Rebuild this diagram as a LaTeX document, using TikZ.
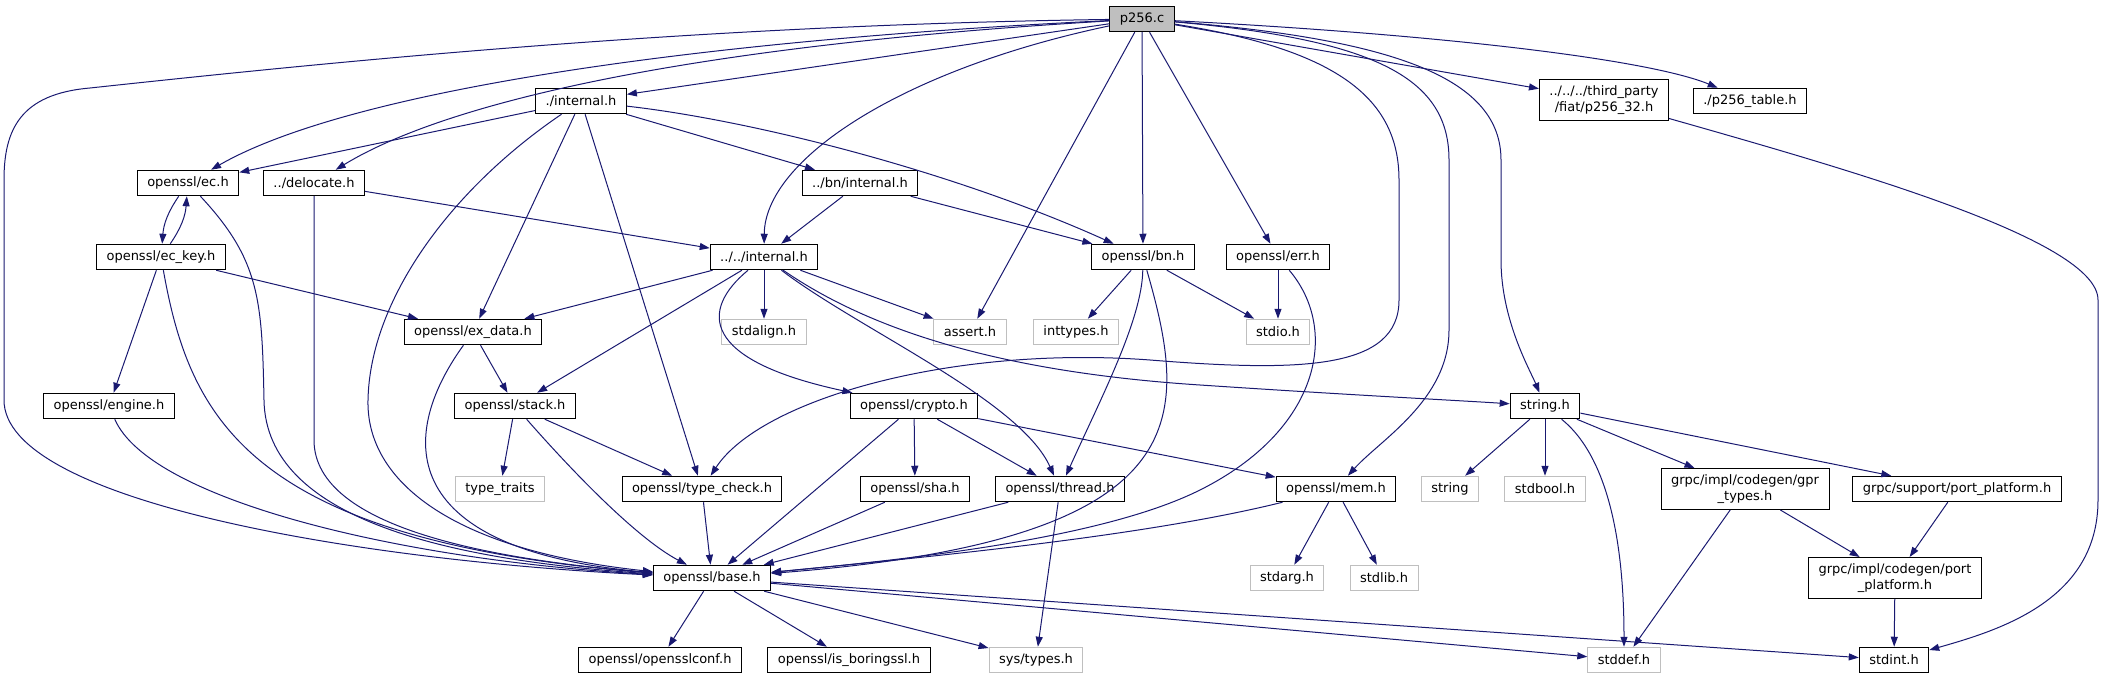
\documentclass[tikz,border=0pt]{standalone}
\usepackage{fontspec}
\setmainfont{DejaVu Sans}
\usetikzlibrary{arrows.meta}
\definecolor{incblue}{HTML}{191970}
\definecolor{grey75}{HTML}{BFBFBF}
\tikzset{
  hdr/.style={draw=black, line width=1pt, rectangle, inner xsep=10pt, inner ysep=6pt, minimum height=25.5pt, align=center},
  sysinc/.style={hdr, draw=grey75},
  rootfile/.style={hdr, fill=grey75},
  inc/.style={draw=incblue, line width=1pt, -{Triangle[length=10pt,width=7pt]}}
}

\begin{document}
\begin{tikzpicture}[x=1pt, y=-1pt, font=\fontsize{13}{16}\selectfont]
\useasboundingbox (0,0) rectangle (2104,679);
% files
\node[rootfile] (root) at (1142,19) {p256.c};
\node[hdr] (intl) at (581,101) {./internal.h};
\node[hdr] (fiat) at (1604,100) {../../../third\_party\\/fiat/p256\_32.h};
\node[hdr] (table) at (1750,101) {./p256\_table.h};
\node[hdr] (ec) at (188,183) {openssl/ec.h};
\node[hdr] (deloc) at (314,183) {../delocate.h};
\node[hdr] (bnint) at (860,183) {../bn/internal.h};
\node[hdr] (eckey) at (161,257) {openssl/ec\_key.h};
\node[hdr] (cint) at (764,257) {../../internal.h};
\node[hdr] (bn) at (1143,257) {openssl/bn.h};
\node[hdr] (err) at (1278,257) {openssl/err.h};
\node[hdr] (exdata) at (473,332) {openssl/ex\_data.h};
\node[sysinc] (stdalign) at (764,332) {stdalign.h};
\node[sysinc] (assert) at (970,332) {assert.h};
\node[sysinc] (inttypes) at (1076,332) {inttypes.h};
\node[sysinc] (stdio) at (1278,332) {stdio.h};
\node[hdr] (engine) at (109,406) {openssl/engine.h};
\node[hdr] (stack) at (515,406) {openssl/stack.h};
\node[hdr] (crypto) at (914,406) {openssl/crypto.h};
\node[hdr] (stringh) at (1545,406) {string.h};
\node[sysinc] (traits) at (500,489) {type\_traits};
\node[hdr] (typecheck) at (702,489) {openssl/type\_check.h};
\node[hdr] (sha) at (915,489) {openssl/sha.h};
\node[hdr] (thread) at (1060,489) {openssl/thread.h};
\node[hdr] (mem) at (1336,489) {openssl/mem.h};
\node[sysinc] (string) at (1450,489) {string};
\node[sysinc] (stdbool) at (1545,489) {stdbool.h};
\node[hdr] (gprtypes) at (1745,489) {grpc/impl/codegen/gpr\\\_types.h};
\node[hdr] (supportpp) at (1957,489) {grpc/support/port\_platform.h};
\node[hdr] (base) at (712,578) {openssl/base.h};
\node[sysinc] (stdarg) at (1287,578) {stdarg.h};
\node[sysinc] (stdlib) at (1384,578) {stdlib.h};
\node[hdr] (codegenpp) at (1895,578) {grpc/impl/codegen/port\\\_platform.h};
\node[hdr] (conf) at (660,660) {openssl/opensslconf.h};
\node[hdr] (boring) at (849,660) {openssl/is\_boringssl.h};
\node[sysinc] (systypes) at (1036,660) {sys/types.h};
\node[sysinc] (stddef) at (1624,660) {stddef.h};
\node[hdr] (stdint) at (1894,660) {stdint.h};
% includes of p256.c
\draw[inc] (root) .. controls (700,25) and (350,60) .. (90,88) .. controls (20,94) and (4,130) .. (4,180) -- (4,400) .. controls (4,500) and (350,560) .. (base);
\draw[inc] (root) .. controls (700,40) and (350,90) .. (ec);
\draw[inc] (root) .. controls (700,45) and (450,100) .. (deloc);
\draw[inc] (root) -- (intl);
\draw[inc] (root) .. controls (900,70) and (765,160) .. (cint);
\draw[inc] (root) -- (assert);
\draw[inc] (root) -- (bn);
\draw[inc] (root) -- (err);
\draw[inc] (root) .. controls (1380,40) and (1449,80) .. (1449,160) -- (1449,330) .. controls (1449,400) and (1380,440) .. (mem);
\draw[inc] (root) .. controls (1340,50) and (1399,100) .. (1399,180) -- (1399,300) .. controls (1399,370) and (1300,372) .. (1150,360) .. controls (950,345) and (760,400) .. (typecheck);
\draw[inc] (root) .. controls (1400,40) and (1501,80) .. (1501,160) -- (1501,260) .. controls (1501,320) and (1530,370) .. (stringh);
\draw[inc] (root) -- (fiat);
\draw[inc] (root) .. controls (1450,35) and (1650,60) .. (table);
% ./internal.h
\draw[inc] (intl) -- (ec);
\draw[inc] (intl) .. controls (450,190) and (370,300) .. (368,400) .. controls (366,480) and (450,550) .. (base);
\draw[inc] (intl) -- (exdata);
\draw[inc] (intl) -- (typecheck);
\draw[inc] (intl) -- (bnint);
\draw[inc] (intl) .. controls (750,120) and (950,170) .. (bn);
\draw[inc] (bnint) -- (cint);
\draw[inc] (bnint) -- (bn);
\draw[inc] (deloc) -- (cint);
\draw[inc] (deloc) -- (314,440) .. controls (314,530) and (500,560) .. (base);
% ec
\draw[inc] (ec) to[bend right=15] (eckey);
\draw[inc] (eckey) to[bend right=15] (ec);
\draw[inc] (ec) .. controls (260,260) and (262,300) .. (264,400) .. controls (266,520) and (450,560) .. (base);
\draw[inc] (eckey) -- (exdata);
\draw[inc] (eckey) -- (engine);
\draw[inc] (eckey) .. controls (190,420) and (250,540) .. (base);
\draw[inc] (engine) .. controls (150,500) and (400,560) .. (base);
\draw[inc] (exdata) -- (stack);
\draw[inc] (exdata) .. controls (395,440) and (400,550) .. (base);
% ../../internal.h
\draw[inc] (cint) -- (exdata);
\draw[inc] (cint) -- (stack);
\draw[inc] (cint) .. controls (700,310) and (700,360) .. (crypto);
\draw[inc] (cint) -- (stdalign);
\draw[inc] (cint) .. controls (860,330) and (1020,400) .. (thread);
\draw[inc] (cint) .. controls (870,330) and (1000,372) .. (1200,385) .. controls (1350,395) and (1450,400) .. (stringh);
\draw[inc] (cint) -- (assert);
% bn, err
\draw[inc] (bn) -- (inttypes);
\draw[inc] (bn) -- (stdio);
\draw[inc] (bn) .. controls (1142,320) and (1100,400) .. (thread);
\draw[inc] (bn) .. controls (1190,420) and (1200,540) .. (base);
\draw[inc] (err) -- (stdio);
\draw[inc] (err) .. controls (1340,330) and (1320,430) .. (1200,490) .. controls (1100,540) and (900,560) .. (base);
% stack, crypto
\draw[inc] (stack) -- (traits);
\draw[inc] (stack) -- (typecheck);
\draw[inc] (stack) .. controls (580,480) and (640,540) .. (base);
\draw[inc] (typecheck) -- (base);
\draw[inc] (crypto) -- (base);
\draw[inc] (crypto) -- (sha);
\draw[inc] (crypto) -- (thread);
\draw[inc] (crypto) -- (mem);
\draw[inc] (sha) -- (base);
\draw[inc] (thread) -- (base);
\draw[inc] (thread) -- (systypes);
\draw[inc] (mem) .. controls (1150,535) and (950,555) .. (base);
\draw[inc] (mem) -- (stdarg);
\draw[inc] (mem) -- (stdlib);
% base
\draw[inc] (base) -- (conf);
\draw[inc] (base) -- (boring);
\draw[inc] (base) -- (systypes);
\draw[inc] (base) -- (stddef);
\draw[inc] (base) -- (stdint);
% string.h and grpc
\draw[inc] (stringh) -- (string);
\draw[inc] (stringh) -- (stdbool);
\draw[inc] (stringh) .. controls (1600,450) and (1624,520) .. (stddef);
\draw[inc] (stringh) -- (gprtypes);
\draw[inc] (stringh) -- (supportpp);
\draw[inc] (gprtypes) -- (stddef);
\draw[inc] (gprtypes) -- (codegenpp);
\draw[inc] (supportpp) -- (codegenpp);
\draw[inc] (codegenpp) -- (stdint);
\draw[inc] (fiat) .. controls (1850,170) and (2098,240) .. (2098,300) -- (2098,500) .. controls (2098,600) and (2000,630) .. (stdint);
\end{tikzpicture}
\end{document}
